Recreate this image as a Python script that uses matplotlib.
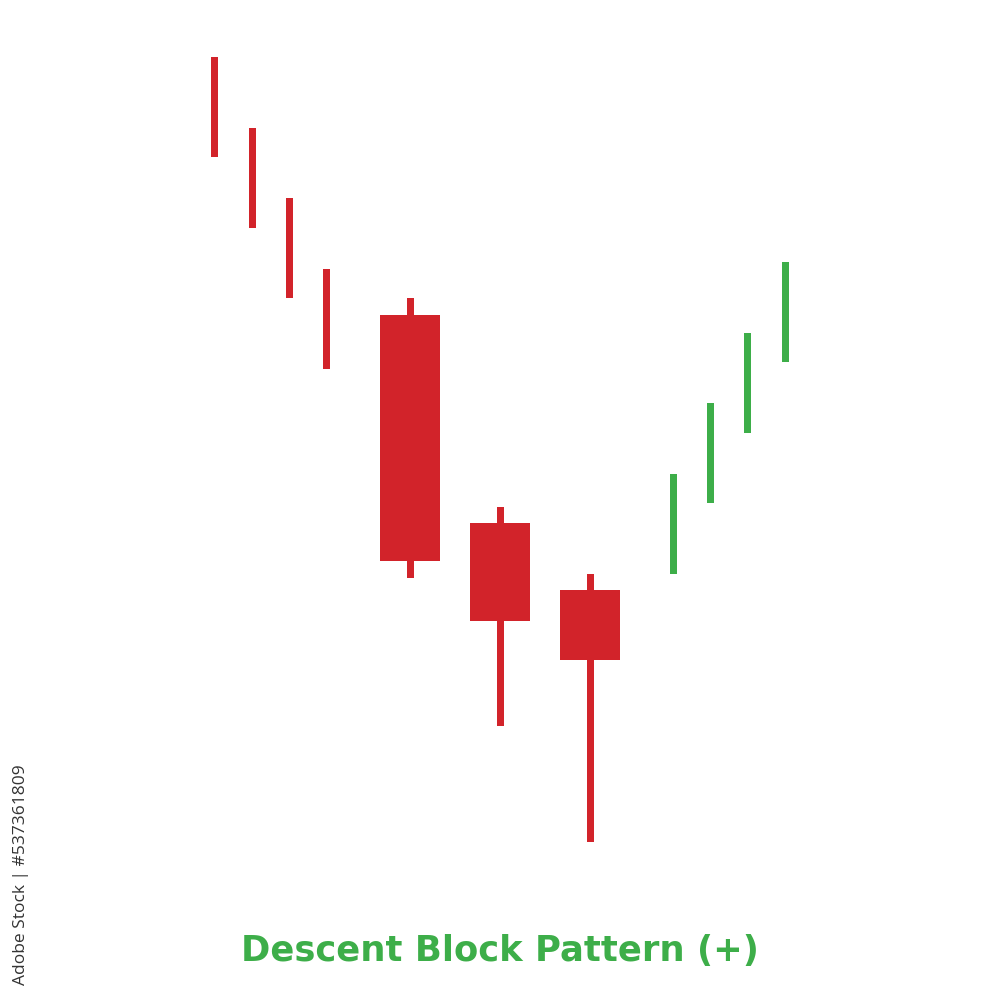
import matplotlib
matplotlib.use("Agg")
import matplotlib.pyplot as plt

# Candle data (price units; higher = up)
x_pos   = [214, 252, 289, 326, 410, 500, 590, 673, 710, 747, 785]
opens   = [943, 872, 802, 731, 685, 477, 410, 426, 497, 567, 638]
closes  = [843, 772, 702, 631, 439, 379, 340, 526, 597, 667, 738]
highs   = [943, 872, 802, 731, 702, 493, 426, 526, 597, 667, 738]
lows    = [843, 772, 702, 631, 422, 274, 158, 426, 497, 567, 638]
widths  = [7, 7, 7, 7, 60, 60, 60, 7, 7, 7, 7]

title = "Descent Block Pattern (+)"
credit = "Adobe Stock | #537361809"

RED = "#D2232A"
GREEN = "#3DAE49"

fig = plt.figure(figsize=(10, 10), dpi=100)
ax = fig.add_axes([0, 0, 1, 1])
ax.set_xlim(0, 1000)
ax.set_ylim(0, 1000)
ax.axis("off")

for x, o, c, h, l, w in zip(x_pos, opens, closes, highs, lows, widths):
    col = GREEN if c > o else RED
    # wick
    ax.bar(x, h - l, bottom=l, width=7, color=col, linewidth=0)
    # body
    lo, hi = min(o, c), max(o, c)
    ax.bar(x, hi - lo, bottom=lo, width=w, color=col, linewidth=0)

ax.text(500, 49, title, ha="center", va="center", fontsize=25.5,
        fontweight="bold", color=GREEN, family="DejaVu Sans")

ax.text(21, 125, credit, ha="center", va="center", rotation=90,
        fontsize=12.5, color="#333333", family="Open Sans")

fig.savefig("out.png", dpi=100, facecolor="white")
